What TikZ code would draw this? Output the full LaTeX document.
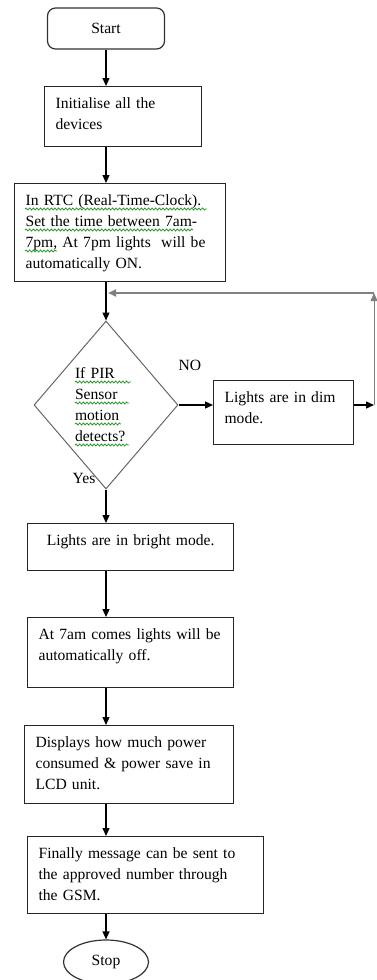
\documentclass[tikz,border=0pt]{standalone}
\usepackage{fontspec}
\setmainfont{Liberation Serif}
\usetikzlibrary{shapes.geometric, arrows.meta, positioning, decorations.pathmorphing}

\definecolor{spellgreen}{RGB}{40,150,40}
\definecolor{loopgray}{RGB}{128,128,128}
\newcommand{\txtfont}{\fontsize{15.6}{21}\selectfont}

\tikzset{
  box/.style={draw=black!85, line width=1.2pt, anchor=north west, align=left,
    inner xsep=11pt, inner ysep=9pt, text height=13pt},
  arr/.style={line width=1.2pt, -{Triangle[length=8pt,width=7pt]}},
  spell/.style={draw=spellgreen, line width=0.8pt, decorate,
    decoration={snake, amplitude=1pt, segment length=3.6pt}},
}

\begin{document}
\begin{tikzpicture}[x=1pt,y=-1pt,font=\txtfont]
    \useasboundingbox (0,0) rectangle (376,980);
    % Steps
    \node[draw=black!80, line width=1.2pt, rounded corners=8pt, minimum width=117pt, minimum height=41pt] (start) at (106,28.5) {Start};
    \node[box, text width=135pt, text depth=29pt] (init) at (44,86) {Initialise all the\\devices};
    \node[box, text width=189pt, text depth=67pt] (rtc) at (14,183) {In RTC (Real-Time-Clock).\\Set the time between 7am-\\7pm, At 7pm lights\ \ will be\\automatically ON.};
    % Labels before the diamond
    \node (yes) at (84,478) {Yes};
    \node (no) at (190,365) {NO};
    \node[draw=black!60, line width=1pt, diamond, aspect=0.857, minimum width=144pt, minimum height=168pt, inner sep=0pt, text width=62pt, text height=13pt, text depth=67pt, align=left] (dec) at (106,405) {If PIR\\Sensor\\motion\\detects?};
    \node[box, text width=118pt, text depth=33pt] (dim) at (213,380) {Lights are in dim\\mode.};
    \node[box, text width=184pt, text depth=16pt, align=center] (bright) at (27,523) {Lights are in bright mode.};
    \node[box, text width=184pt, text depth=39pt] (late) at (27,617) {At 7am comes lights will be\\automatically off.};
    \node[box, text width=187pt, text depth=47pt] (lcd) at (24,725) {Displays how much power\\consumed \& power save in\\LCD unit.};
    \node[box, text width=214pt, text depth=46pt] (gsm) at (27,836) {Finally message can be sent to\\the approved number through\\the GSM.};
    \node[draw=black!80, line width=1.2pt, ellipse, minimum width=85pt, minimum height=44pt, inner sep=0pt] (stop) at (106,962) {Stop};
    \coordinate (loop) at (374,293);
    % Spell check marks
    \draw[spell] ([shift={(11,26)}]rtc.north west) -- ++(182,0);
    \draw[spell] ([shift={(11,47)}]rtc.north west) -- ++(168,0);
    \draw[spell] ([shift={(11,68)}]rtc.north west) -- ++(32,0);
    \draw[spell] ([shift={(-31,-23)}]dec.center) -- ++(56,0);
    \draw[spell] ([shift={(-31,-2)}]dec.center) -- ++(54,0);
    \draw[spell] ([shift={(-31,19)}]dec.center) -- ++(46,0);
    \draw[spell] ([shift={(-31,40)}]dec.center) -- ++(54,0);
    % Arrows
    \draw[arr] (start.south) -- (start.south |- init.north);
    \draw[arr] (start.south |- init.south) -- (start.south |- rtc.north);
    \draw[arr] (start.south |- rtc.south) -- (dec.north);
    \draw[arr] (dec.east) -- (dec.east -| dim.west);
    \draw[arr] (dec.east -| dim.east) -- (dec.east -| loop);
    \draw[arr, draw=loopgray, line width=0.8pt] (dec.east -| loop) -- (loop);
    \draw[arr, draw=loopgray, line width=2.5pt] (loop) -- ([xshift=2pt]loop -| dec.north);
    \draw[arr] (dec.south) -- (dec.south |- bright.north);
    \draw[arr] (dec.south |- bright.south) -- (dec.south |- late.north);
    \draw[arr] (dec.south |- late.south) -- (dec.south |- lcd.north);
    \draw[arr] (dec.south |- lcd.south) -- (dec.south |- gsm.north);
    \draw[arr] (dec.south |- gsm.south) -- (stop.north);
\end{tikzpicture}
\end{document}
